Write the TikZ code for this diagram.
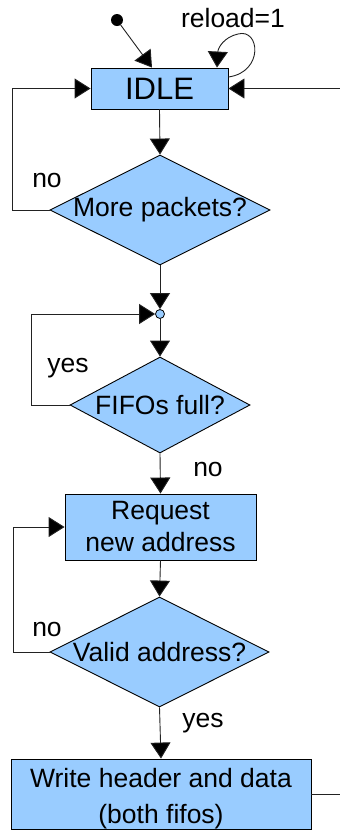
\documentclass[tikz,border=0pt]{standalone}
\usepackage{fontspec}
\setmainfont{Liberation Sans}
\usetikzlibrary{shapes.geometric,arrows.meta}
\definecolor{boxblue}{HTML}{99CCFF}
\definecolor{wire}{HTML}{222222}

\begin{document}
\begin{tikzpicture}[x=1pt,y=-1pt,
  every node/.style={font=\fontsize{26.5}{32}\selectfont, inner sep=0pt},
  proc/.style={draw=black, fill=boxblue, line width=0.9pt, rectangle},
  test/.style={draw=black, fill=boxblue, line width=0.9pt, diamond},
  arr/.style={draw=wire, line width=0.9pt, -{Triangle[length=16pt,width=20pt,fill=black]}},
  wireline/.style={draw=wire, line width=0.9pt},
  tag/.style={anchor=base}]
\useasboundingbox (0,0) rectangle (340,831);

% states and decisions
\node[proc, minimum width=137pt, minimum height=41pt, font=\fontsize{31}{34}\selectfont] (idle) at (159.5,88.5) {IDLE};
\node[test, minimum width=220pt, minimum height=110pt] (more) at (160,210) {};
\node (moretxt) at (more.center) {More packets?};
\node[circle, draw=black, fill=boxblue, line width=0.8pt, minimum size=9pt] (junc) at (160,314) {};
\node[test, minimum width=180pt, minimum height=96pt] (fifos) at (160,405) {};
\node (fifostxt) at (fifos.center) {FIFOs full?};
\node[proc, minimum width=191pt, minimum height=66pt] (req) at (160.5,527) {};
\node[tag] (reqtxt1) at (160.5,519) {Request};
\node[tag] (reqtxt2) at (160.5,551) {new address};
\node[test, minimum width=219pt, minimum height=110pt] (valid) at (159.5,652) {};
\node (validtxt) at (valid.center) {Valid address?};
\node[proc, minimum width=300pt, minimum height=70pt] (write) at (161,794) {};
\node[tag] (writetxt1) at (161,787) {Write header and data};
\node[tag] (writetxt2) at (161,823) {(both fifos)};

% start marker and outside connections
\node[circle, fill=black, minimum size=12pt] (dot) at (117,20) {};
\coordinate (rin) at (340,88.5);
\coordinate (wout) at (340,794);
\coordinate (l1) at (12,0);
\coordinate (l2) at (31,0);
\coordinate (l3) at (13,0);

% connectors
\draw[arr] (dot) -- ([xshift=-7.5pt]idle.north);
\draw[arr] ([yshift=11.5pt]idle.east) .. controls (264,72) and (260,28) .. (238,34)
  .. controls (224,37) and (218,48) .. ([xshift=57.5pt]idle.north);
\draw[arr] (rin) -- (idle.east);
\draw[arr] (idle.south) -- (more.north);
\draw[arr] (more.west) -| (l1 |- idle.west) -- (idle.west);
\draw[arr] (more.south) -- (junc.north);
\draw[arr] (junc.south) -- (fifos.north);
\draw[arr] (fifos.west) -| (l2 |- junc.west) -- (junc.west);
\draw[arr] (fifos.south) -- (req.north);
\draw[arr] (req.south) -- (valid.north);
\draw[arr] (valid.west) -| (l3 |- req.west) -- (req.west);
\draw[arr] (valid.south) -- (write.north);
\draw[wireline] (write.east) -- (wout);

% labels
\node[tag] (reload) at (233,27) {reload=1};
\node[tag] (no1) at (47,187) {no};
\node[tag] (yes1) at (68,372) {yes};
\node[tag] (no2) at (208,476) {no};
\node[tag] (no3) at (47,636) {no};
\node[tag] (yes2) at (203,727) {yes};
\end{tikzpicture}
\end{document}
